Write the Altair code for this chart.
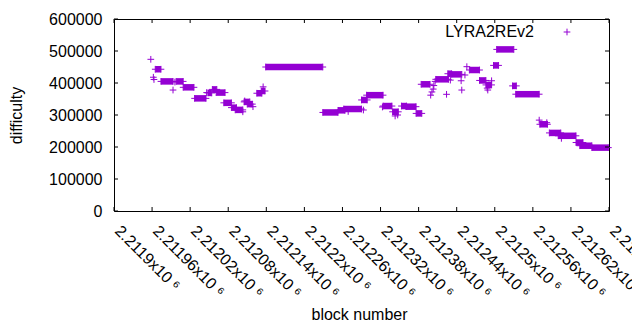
import altair as alt
import pandas as pd

COLOR = "#9400D3"
FONT = "Liberation Sans"

# Runs of consecutive blocks that share one difficulty value
run_start = [2211965, 2211974, 2211998, 2212009, 2212027, 2212048, 2212055, 2212061,
             2212073, 2212085, 2212091, 2212105, 2212110, 2212125, 2212132, 2212139,
             2212229, 2212253, 2212262, 2212290, 2212298, 2212324, 2212339, 2212353,
             2212360, 2212376, 2212384, 2212407, 2212426, 2212432, 2212460, 2212476,
             2212486, 2212498, 2212503, 2212528, 2212533, 2212571, 2212586, 2212600,
             2212628, 2212634, 2212653]
run_end = [2211974, 2211993, 2212009, 2212026, 2212045, 2212054, 2212062, 2212075,
           2212085, 2212093, 2212103, 2212114, 2212118, 2212133, 2212138, 2212229,
           2212253, 2212264, 2212290, 2212299, 2212324, 2212338, 2212348, 2212361,
           2212376, 2212385, 2212398, 2212427, 2212432, 2212448, 2212476, 2212486,
           2212495, 2212506, 2212530, 2212534, 2212570, 2212583, 2212604, 2212628,
           2212639, 2212653, 2212679]
run_diff = [443000, 405000, 405000, 386500, 352000, 369000, 380000, 370000,
            338000, 323000, 316000, 341000, 334000, 368000, 375000, 450000,
            308000, 314600, 318700, 347000, 362000, 328000, 310000, 328000,
            326000, 305000, 396000, 411500, 429000, 427000, 440600, 408000,
            394000, 455000, 505000, 391000, 365000, 271000, 244000, 235000,
            214000, 204000, 198000]

# Isolated blocks
pt_block = [2211958, 2211962, 2211963, 2211993, 2211996, 2212046, 2212103, 2212106,
            2212119, 2212135, 2212269, 2212293, 2212323, 2212343, 2212347, 2212399,
            2212401, 2212403, 2212404, 2212406, 2212424, 2212430, 2212447, 2212448,
            2212453, 2212456, 2212488, 2212489, 2212495, 2212570, 2212582, 2212605]
pt_diff = [474000, 418000, 411000, 378000, 403000, 370000, 310000, 344000,
           326000, 388000, 311000, 315600, 325000, 297000, 300000, 362000,
           372000, 381000, 392000, 405000, 364600, 409000, 407000, 378000,
           425000, 451000, 384000, 378000, 407000, 284000, 276000, 227000]

x_ticks = [2211900, 2211960, 2212020, 2212080, 2212140, 2212200, 2212260,
           2212320, 2212380, 2212440, 2212500, 2212560, 2212620, 2212680]
y_ticks = [0, 100000, 200000, 300000, 400000, 500000, 600000]

series_name = "LYRA2REv2"

W, H = 495, 192
PLUS = "M-1,0H1M0,-1V1"

runs = pd.DataFrame({"block": run_start, "block2": run_end, "diff": run_diff})
ends = pd.DataFrame({"block": run_start + run_end, "diff": run_diff + run_diff})
singles = pd.DataFrame({"block": pt_block, "diff": pt_diff})
xt = pd.DataFrame({"block": x_ticks})
yt = pd.DataFrame({"diff": y_ticks})

xscale = alt.Scale(domain=[2211900, 2212680], nice=False, zero=False)
yscale = alt.Scale(domain=[0, 600000], nice=False, zero=False)

xaxis = alt.Axis(values=x_ticks,
                 labelExpr="format(datum.value/1e6, '.6~g') + 'x10 ⁶'",
                 labelAngle=45, labelAlign="left", labelBaseline="middle",
                 labelPadding=17, labelOffset=3,
                 labelOverlap=False, labelFlush=False, labelBound=False,
                 ticks=False, domain=False, grid=False,
                 title="block number", titleX=245, titleY=103, titleBaseline="middle")
yaxis = alt.Axis(values=y_ticks, format="d", labelPadding=12,
                 ticks=False, domain=False, grid=False,
                 title="difficulty", titleX=-98, titleY=96, titleBaseline="middle")

X = alt.X("block:Q", scale=xscale, axis=xaxis)
Y = alt.Y("diff:Q", scale=yscale, axis=yaxis)

bands = alt.Chart(runs).mark_rule(color=COLOR, strokeWidth=6.5, strokeCap="butt").encode(
    x=X, x2="block2:Q", y=Y)
endpts = alt.Chart(ends).mark_point(shape=PLUS, size=45, filled=False, strokeWidth=1,
                                    color=COLOR, opacity=1).encode(x=X, y=Y)
pts = alt.Chart(singles).mark_point(shape=PLUS, size=45, filled=False, strokeWidth=1,
                                    color=COLOR, opacity=1).encode(x=X, y=Y)

tb = alt.Chart(xt).mark_rule(color="black", strokeWidth=1).encode(
    x=X, y=alt.value(H), y2=alt.value(H - 4))
tt = alt.Chart(xt).mark_rule(color="black", strokeWidth=1).encode(
    x=X, y=alt.value(0), y2=alt.value(4))
tl = alt.Chart(yt).mark_rule(color="black", strokeWidth=1).encode(
    y=Y, x=alt.value(0), x2=alt.value(4))
tr = alt.Chart(yt).mark_rule(color="black", strokeWidth=1).encode(
    y=Y, x=alt.value(W - 4), x2=alt.value(W))

leg_df = pd.DataFrame({"name": [series_name]})
leg_text = alt.Chart(leg_df).mark_text(align="right", baseline="middle", fontSize=16,
                                       font=FONT, color="black").encode(
    text="name:N", x=alt.value(420), y=alt.value(13))
leg_pt = alt.Chart(leg_df).mark_point(shape=PLUS, size=45, filled=False, strokeWidth=1,
                                      color=COLOR, opacity=1).encode(
    x=alt.value(453), y=alt.value(13))

chart = alt.layer(bands, endpts, pts, tb, tt, tl, tr, leg_text, leg_pt).properties(
    width=W, height=H,
    autosize=alt.AutoSizeParams(type="none"),
    padding={"left": 106, "top": 11, "right": 23, "bottom": 114},
).configure_view(stroke="black", strokeWidth=1).configure_axis(
    labelFont=FONT, labelFontSize=16, labelColor="black",
    titleFont=FONT, titleFontSize=16, titleColor="black", titleFontWeight="normal",
)

chart.save("out.html", embed_options={"renderer": "svg", "actions": False})
